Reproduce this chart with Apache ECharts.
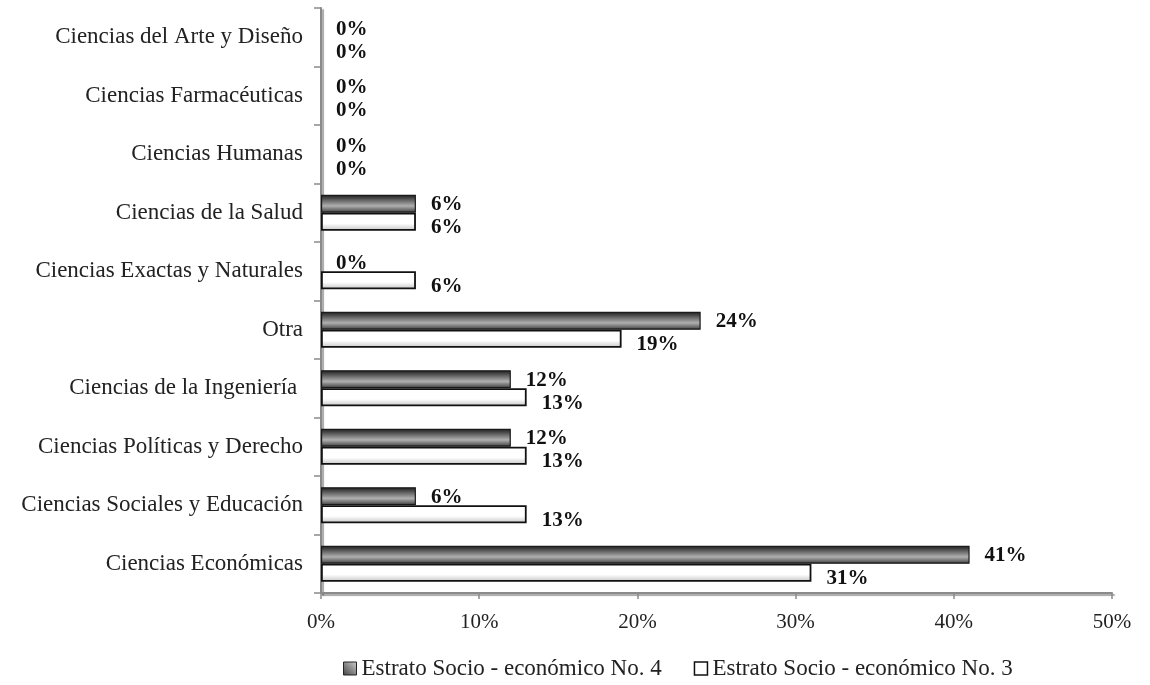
<!DOCTYPE html>
<html>
<head>
<meta charset="utf-8">
<script src="https://cdn.jsdelivr.net/npm/echarts@6/dist/echarts.min.js"></script>
<style>
  html, body { margin: 0; padding: 0; background: #fff; }
  #chart { width: 1150px; height: 685px; }
</style>
</head>
<body>
<div id="chart"></div>
<script>
// Areas of study, bottom to top
const categories = [
  'Ciencias Económicas',
  'Ciencias Sociales y Educación',
  'Ciencias Políticas y Derecho',
  'Ciencias de la Ingeniería ',
  'Otra',
  'Ciencias Exactas y Naturales',
  'Ciencias de la Salud',
  'Ciencias Humanas',
  'Ciencias Farmacéuticas',
  'Ciencias del Arte y Diseño'
];
const estrato4 = [41, 6, 12, 12, 24, 0, 6, 0, 0, 0];
const estrato3 = [31, 13, 13, 13, 19, 6, 6, 0, 0, 0];
const seriesNames = ['Estrato Socio - económico No. 4', 'Estrato Socio - económico No. 3'];
const xTicks = [0, 10, 20, 30, 40, 50];

const SERIF = '"Liberation Serif", "DejaVu Serif", serif';

const darkFill = new echarts.graphic.LinearGradient(0, 0, 0, 1, [
  { offset: 0, color: '#1a1a1a' },
  { offset: 0.2, color: '#4a4a4a' },
  { offset: 0.62, color: '#b0b0b0' },
  { offset: 0.88, color: '#606060' },
  { offset: 1, color: '#262626' }
]);
const lightFill = new echarts.graphic.LinearGradient(0, 0, 0, 1, [
  { offset: 0, color: '#ffffff' },
  { offset: 0.6, color: '#ffffff' },
  { offset: 1, color: '#c4c4c4' }
]);
const legendDark = new echarts.graphic.LinearGradient(1, 0, 0, 1, [
  { offset: 0, color: '#d0d0d0' },
  { offset: 1, color: '#404040' }
]);

// zero-length bars get no outline
const withoutZeroBorder = arr => arr.map(v => v === 0 ? { value: v, itemStyle: { borderWidth: 0 } } : v);

const labelStyle = {
  show: true,
  position: 'right',
  distance: 15,
  fontFamily: SERIF,
  fontWeight: 'bold',
  fontSize: 21,
  color: '#111',
  formatter: p => p.value + '%'
};

const axisLine = {
  show: true,
  lineStyle: {
    color: '#8a8a8a',
    width: 2,
    shadowColor: 'rgba(0,0,0,0.35)',
    shadowOffsetX: 2,
    shadowOffsetY: 2,
    shadowBlur: 1
  }
};

const chart = echarts.init(document.getElementById('chart'), null, { renderer: 'canvas' });
chart.setOption({
  animation: false,
  backgroundColor: '#ffffff',
  grid: { left: 321, right: 38, top: 8, bottom: 92, containLabel: false },
  legend: {
    bottom: 0,
    left: 338,
    itemWidth: 13,
    itemHeight: 13,
    itemGap: 32,
    icon: 'rect',
    textStyle: { fontFamily: SERIF, fontSize: 23, color: '#222' },
    data: [
      { name: seriesNames[0], itemStyle: { color: legendDark, borderColor: '#222', borderWidth: 1 } },
      { name: seriesNames[1], itemStyle: { color: '#ffffff', borderColor: '#111', borderWidth: 1.5 } }
    ]
  },
  xAxis: {
    type: 'value',
    min: 0,
    max: 50,
    interval: 10,
    axisLine: axisLine,
    axisTick: { show: true, inside: false, length: 6, lineStyle: { color: '#8a8a8a', width: 1.5 } },
    splitLine: { show: false },
    axisLabel: {
      margin: 19,
      fontFamily: SERIF,
      fontSize: 21,
      color: '#222',
      formatter: v => xTicks.includes(v) ? v + '%' : ''
    }
  },
  yAxis: {
    type: 'category',
    data: categories,
    axisLine: axisLine,
    axisTick: { show: true, length: 7, lineStyle: { color: '#8a8a8a', width: 1.5 } },
    axisLabel: {
      margin: 18,
      fontFamily: SERIF,
      fontSize: 23,
      color: '#222'
    }
  },
  series: [
    {
      name: seriesNames[0],
      type: 'bar',
      data: withoutZeroBorder(estrato4),
      barWidth: 18,
      barGap: '0%',
      itemStyle: { color: darkFill, borderColor: '#1a1a1a', borderWidth: 1.2 },
      label: Object.assign({}, labelStyle, { offset: [0, 1] })
    },
    {
      name: seriesNames[1],
      type: 'bar',
      data: withoutZeroBorder(estrato3),
      barWidth: 18,
      barGap: '0%',
      itemStyle: { color: lightFill, borderColor: '#111', borderWidth: 1.8 },
      label: Object.assign({}, labelStyle, { offset: [0, 6] })
    }
  ]
});
</script>
</body>
</html>
